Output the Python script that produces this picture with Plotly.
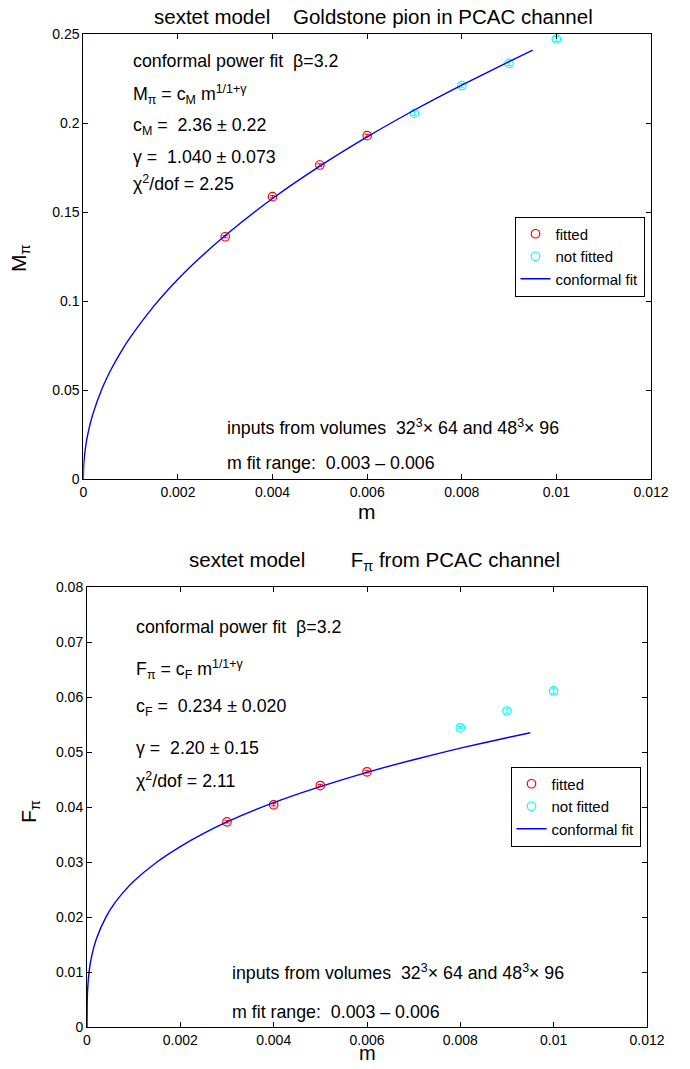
import plotly.graph_objects as go

# ---------------- data: top panel (M_pi) ----------------
m_fit = [0.003, 0.004, 0.005, 0.006]
Mpi_fit = [0.1361, 0.1586, 0.1764, 0.1929]
Mpi_fit_err = [0.0006, 0.0006, 0.0007, 0.0007]
m_nofit_M = [0.007, 0.008, 0.009, 0.010]
Mpi_nofit = [0.2054, 0.2210, 0.2335, 0.2472]
Mpi_nofit_err = [0.0012, 0.0012, 0.0012, 0.0014]
m_curve = [0.0, 0.00001, 0.00005, 0.0001, 0.0002, 0.0004, 0.0006, 0.0008, 0.001,
           0.0015, 0.002, 0.0025, 0.003, 0.004, 0.005, 0.006, 0.007, 0.008, 0.009, 0.0095]
Mpi_curve = [0.0, 0.0084, 0.0184, 0.0258, 0.0363, 0.0510, 0.0622, 0.0716, 0.0798,
             0.0974, 0.1122, 0.1251, 0.1368, 0.1576, 0.1758, 0.1922, 0.2073, 0.2213, 0.2345, 0.2410]

# ---------------- data: bottom panel (F_pi) ----------------
Fpi_fit = [0.0373, 0.0404, 0.0439, 0.0464]
Fpi_fit_err = [0.0002, 0.0002, 0.0002, 0.0002]
m_nofit_F = [0.008, 0.009, 0.010]
Fpi_nofit = [0.0544, 0.05745, 0.0611]
Fpi_nofit_err = [0.0002, 0.0004, 0.0005]
Fpi_curve = [0.0, 0.0063, 0.0104, 0.0129, 0.0160, 0.0199, 0.0226, 0.0247, 0.0265,
             0.0300, 0.0328, 0.0352, 0.0373, 0.0408, 0.0437, 0.0463, 0.0486, 0.0507, 0.0526, 0.0535]

# ---------------- tick labels ----------------
x_ticks = [0, 0.002, 0.004, 0.006, 0.008, 0.010, 0.012]
x_ticktext = ["0", "0.002", "0.004", "0.006", "0.008", "0.01", "0.012"]
yM_ticks = [0, 0.05, 0.10, 0.15, 0.20, 0.25]
yM_ticktext = ["0", "0.05", "0.1", "0.15", "0.2", "0.25"]
yF_ticks = [0, 0.01, 0.02, 0.03, 0.04, 0.05, 0.06, 0.07, 0.08]
yF_ticktext = ["0", "0.01", "0.02", "0.03", "0.04", "0.05", "0.06", "0.07", "0.08"]

# page body has an 8px default margin: the figure is sized to fit the 690x1069 window
OFF = 8
W, H = 690 - OFF, 1069 - 2 * OFF
FONT = "Liberation Sans, Arial, Helvetica, sans-serif"
RED, CYAN, BLUE = "#ff0000", "#00ffff", "#0000ff"

fig = go.Figure()

def add_panel(xa, ya, leg, yfit, yfit_err, mnf, ynf, ynf_err, ycurve):
    fig.add_trace(go.Scatter(
        x=m_fit, y=yfit, mode="markers", name="fitted", xaxis=xa, yaxis=ya, legend=leg,
        marker=dict(symbol="circle-open", size=8.5, color=RED, line=dict(width=1.2, color=RED)),
        error_y=dict(type="data", array=yfit_err, color=RED, thickness=1, width=2.5)))
    fig.add_trace(go.Scatter(
        x=mnf, y=ynf, mode="markers", name="not fitted", xaxis=xa, yaxis=ya, legend=leg,
        marker=dict(symbol="circle-open", size=8.5, color=CYAN, line=dict(width=1.2, color=CYAN)),
        error_y=dict(type="data", array=ynf_err, color=CYAN, thickness=1, width=2.5)))
    fig.add_trace(go.Scatter(
        x=m_curve, y=ycurve, mode="lines", name="conformal fit", xaxis=xa, yaxis=ya, legend=leg,
        line=dict(color=BLUE, width=1.4, shape="spline", smoothing=0.6)))

add_panel("x", "y", "legend", Mpi_fit, Mpi_fit_err, m_nofit_M, Mpi_nofit, Mpi_nofit_err, Mpi_curve)
add_panel("x2", "y2", "legend2", Fpi_fit, Fpi_fit_err, m_nofit_F, Fpi_nofit, Fpi_nofit_err, Fpi_curve)

def px_x(p):
    return (p - OFF) / W

def px_y(p):
    return 1 - (p - OFF) / H

axis_common = dict(showline=True, linecolor="black", linewidth=1, mirror="ticks",
                   ticks="inside", ticklen=5, tickwidth=1, tickcolor="black",
                   showgrid=False, zeroline=False, automargin=False,
                   tickfont=dict(family=FONT, size=14, color="black"))

leg_common = dict(xanchor="right", yanchor="middle", bgcolor="white", bordercolor="black",
                  borderwidth=1, font=dict(family=FONT, size=15, color="black"),
                  tracegroupgap=0, itemwidth=30)

fig.update_layout(
    template="none",
    width=W, height=H,
    margin=dict(l=0, r=0, t=0, b=0, autoexpand=False),
    paper_bgcolor="white", plot_bgcolor="white",
    font=dict(family=FONT, color="black"),
    xaxis=dict(domain=[px_x(83.3), px_x(651)], range=[0, 0.012], anchor="y",
               tickvals=x_ticks, ticktext=x_ticktext, **axis_common),
    yaxis=dict(domain=[px_y(479), px_y(34)], range=[0, 0.25], anchor="x",
               tickvals=yM_ticks, ticktext=yM_ticktext, **axis_common),
    xaxis2=dict(domain=[px_x(87), px_x(647)], range=[0, 0.012], anchor="y2",
                tickvals=x_ticks, ticktext=x_ticktext, **axis_common),
    yaxis2=dict(domain=[px_y(1027), px_y(587)], range=[0, 0.08], anchor="x2",
                tickvals=yF_ticks, ticktext=yF_ticktext, **axis_common),
    legend=dict(x=px_x(644.5), y=px_y(256.5), **leg_common),
    legend2=dict(x=px_x(640.5), y=px_y(806.5), **leg_common),
    showlegend=True,
)

NB = "\u00a0"
ann = []

def text_px(txt, x, y, size=17.8, xanchor="left", textangle=0):
    ann.append(dict(text=txt, x=px_x(x), y=px_y(y), xref="paper", yref="paper",
                    xanchor=xanchor, yanchor="middle", showarrow=False, textangle=textangle,
                    font=dict(family=FONT, size=size, color="black")))

# titles
text_px("sextet model" + NB * 4 + "Goldstone pion in PCAC channel", 373, 16.5, size=20.5, xanchor="center")
text_px("sextet model" + NB * 8 + "F<sub>π</sub> from PCAC channel", 374, 561, size=20.5, xanchor="center")

# axis titles
text_px("m", 367, 511, size=21, xanchor="center")
text_px("m", 367, 1053, size=20, xanchor="center")
text_px("M<sub>π</sub>", 20, 258, size=21, xanchor="center", textangle=-90)
text_px("F<sub>π</sub>", 30, 812, size=21, xanchor="center", textangle=-90)

# top panel annotations
text_px("conformal power fit" + NB * 2 + "β=3.2", 131, 61)
text_px("M<sub>π</sub> = c<sub>M</sub> m<sup>1/1+γ</sup>", 131, 95)
text_px("c<sub>M</sub> =" + NB * 2 + "2.36 ± 0.22", 131, 127)
text_px("γ =" + NB * 2 + "1.040 ± 0.073", 131, 157)
text_px("χ<sup>2</sup>/dof = 2.25", 131, 183)
text_px("inputs from volumes" + NB * 2 + "32<sup>3</sup>× 64 and 48<sup>3</sup>× 96", 225, 427)
text_px("m fit range:" + NB * 2 + "0.003 – 0.006", 225, 463)

# bottom panel annotations
text_px("conformal power fit" + NB * 2 + "β=3.2", 134, 627)
text_px("F<sub>π</sub> = c<sub>F</sub> m<sup>1/1+γ</sup>", 134, 669)
text_px("c<sub>F</sub> =" + NB * 2 + "0.234 ± 0.020", 134, 707)
text_px("γ =" + NB * 2 + "2.20 ± 0.15", 134, 748)
text_px("χ<sup>2</sup>/dof = 2.11", 134, 780)
text_px("inputs from volumes" + NB * 2 + "32<sup>3</sup>× 64 and 48<sup>3</sup>× 96", 230, 972)
text_px("m fit range:" + NB * 2 + "0.003 – 0.006", 230, 1012)

fig.update_layout(annotations=ann)

fig.write_html("out.html")
